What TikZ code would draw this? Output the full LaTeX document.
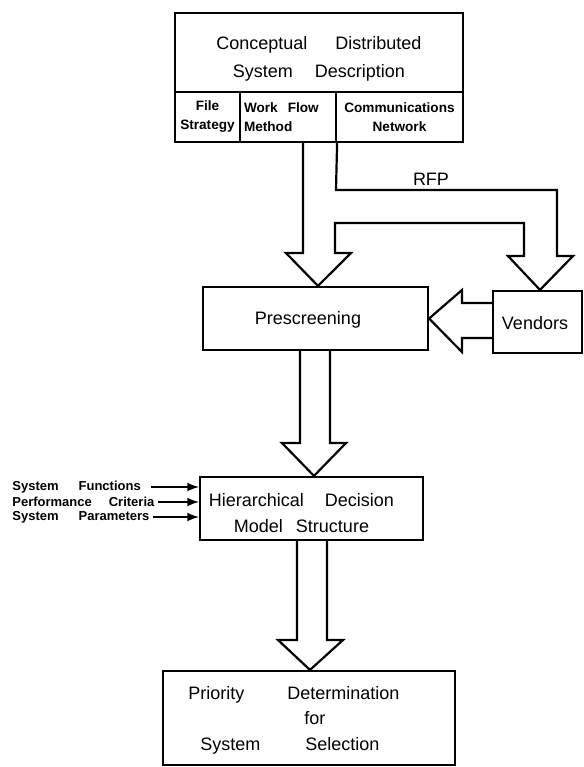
\documentclass[tikz,border=0pt]{standalone}
\usepackage{fontspec}
\setmainfont{Liberation Sans}
\usepackage{tikz}
\usetikzlibrary{arrows}

\tikzset{
    box/.style={draw=black, line width=1.1pt, inner sep=0pt},
    txt/.style={inner sep=0pt, align=center, font=\fontsize{9}{13}\selectfont},
    cell/.style={draw=black, line width=1.1pt, inner sep=0pt, minimum height=25pt, align=center, font=\bfseries\fontsize{6.8}{9.5}\selectfont},
    inlabel/.style={anchor=west, inner sep=0pt, font=\bfseries\fontsize{6.5}{7.5}\selectfont},
    blockarrow/.style={draw=black, line width=1.1pt},
    feed/.style={-latex, line width=1pt},
}

\begin{document}
\begin{tikzpicture}[x=0.5pt, y=-0.5pt]
            \useasboundingbox (0,0) rectangle (584,767);

            \node[box, minimum width=144pt, minimum height=39.5pt, label={[txt, shift={(0,6)}, font=\fontsize{9}{14}\selectfont]center:{Conceptual\hspace{14pt}Distributed\\System\hspace{11pt}Description}}] (cdsd) at (319,52.5) {};
            \node[cell, minimum width=32.5pt] (file) at (207.5,117) {File\\Strategy};
            \node[cell, minimum width=48pt, text width=44pt, align=left] (flow) at (288,117) {Work\hspace{5pt}Flow\\Method};
            \node[cell, minimum width=63.5pt] (comm) at (399.5,117) {Communications\\Network};

            \node[box, minimum width=112.5pt, minimum height=31.5pt, label={[txt, shift={(-7.5,1.5)}]center:Prescreening}] (pre) at (315.5,318.5) {};
            \node[box, minimum width=44.5pt, minimum height=31pt, label={[txt, shift={(-2.5,1)}]center:Vendors}] (ven) at (537.5,322) {};
            \node[box, minimum width=111.5pt, minimum height=31.5pt, label={[txt, shift={(-10,4.5)}]center:{Hierarchical\hspace{10.5pt}Decision\\Model\hspace{6.5pt}Structure}}] (hdms) at (311.5,508.5) {};
            \node[box, minimum width=146pt, minimum height=47pt, label={[txt, shift={(-15,1.5)}, font=\fontsize{9}{12.75}\selectfont]center:{\begin{tabular}{@{}l@{\hspace{13.5pt}}l@{}}Priority & Determination\\ & \hspace{8.5pt}for\\ \hspace{6pt}System & \hspace{9pt}Selection\end{tabular}}}] (prio) at (309,718) {};

            \node[txt] (rfp) at (431,179) {RFP};

            \node[inlabel] (sfun) at (12,487) {System\hspace{10pt}Functions};
            \node[inlabel] (pcrit) at (12,502) {Performance\hspace{8.5pt}Criteria};
            \node[inlabel] (spar) at (12,517) {System\hspace{10pt}Parameters};

            \draw[blockarrow] (303,0 |- flow.south) -- (303,253) -- (286,253) -- (318,0 |- pre.north) -- (351,253) -- (335,253) -- (335,223) -- (524,223) -- (524,256) -- (508,256) -- (540,0 |- ven.north) -- (573,256) -- (557,256) -- (557,190) -- (336,190) -- (flow.south east);
            \draw[blockarrow] (ven.west |- 0,303) -- (462,303) -- (462,290) -- (pre.east) -- (462,352) -- (462,338) -- (ven.west |- 0,338);
            \draw[blockarrow] (300,0 |- pre.south) -- (300,443) -- (282,443) -- (314,0 |- hdms.north) -- (346,443) -- (330,443) -- (330,0 |- pre.south);
            \draw[blockarrow] (297,0 |- hdms.south) -- (297,640) -- (278,640) -- (310,0 |- prio.north) -- (343,640) -- (327,640) -- (327,0 |- hdms.south);

            \draw[feed] ([xshift=5pt]sfun.east) -- (sfun.east -| hdms.west);
            \draw[feed] ([xshift=1.5pt]pcrit.east) -- (pcrit.east -| hdms.west);
            \draw[feed] ([xshift=1.5pt]spar.east) -- (spar.east -| hdms.west);
        \end{tikzpicture}
\end{document}
